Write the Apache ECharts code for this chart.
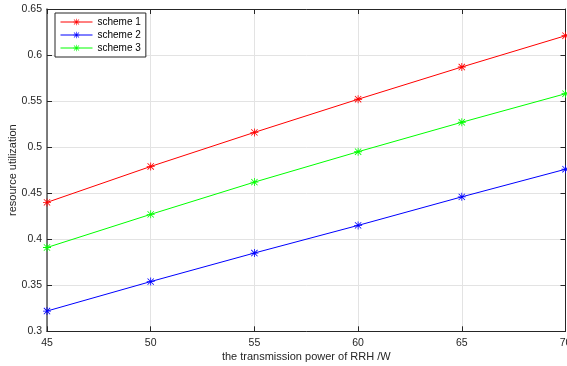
<!DOCTYPE html>
<html><head><meta charset="utf-8">
<script src="https://cdn.jsdelivr.net/npm/echarts@6/dist/echarts.min.js"></script>
<style>html,body{margin:0;padding:0;background:#fff}#c{width:567px;height:366px}</style>
</head><body><div id="c"></div>
<script>
const powers = [45, 50, 55, 60, 65, 70];
const scheme1 = [0.440, 0.479, 0.516, 0.552, 0.587, 0.621];
const scheme2 = [0.322, 0.354, 0.385, 0.415, 0.446, 0.476];
const scheme3 = [0.391, 0.427, 0.462, 0.495, 0.527, 0.558];
const seriesNames = ['scheme 1', 'scheme 2', 'scheme 3'];
const seriesColors = ['#ff0000', '#0000ff', '#00ff00'];
const xTitle = 'the transmission power of RRH /W';
const yTitle = 'resource utilization';

const star = 'path://M9,0L11,0L11,20L9,20Z M0,9L20,9L20,11L0,11Z M1.4,2.8L2.8,1.4L18.6,17.2L17.2,18.6Z M17.2,1.4L18.6,2.8L2.8,18.6L1.4,17.2Z';
const font = 'Liberation Sans, Arial, sans-serif';
const txt = '#262626';

function mk(name, data, color) {
  return {
    name, type: 'line', xAxisIndex: 0, yAxisIndex: 0,
    data: powers.map((p, i) => [p, data[i]]),
    symbol: star, symbolSize: 8, showAllSymbol: true,
    lineStyle: { color, width: 1 }, itemStyle: { color },
    emphasis: { disabled: true }, animation: false
  };
}
const dataArr = [scheme1, scheme2, scheme3];

const chart = echarts.init(document.getElementById('c'));
chart.setOption({
  animation: false,
  backgroundColor: '#fff',
  grid: { left: 47, top: 9, width: 518.5, height: 322.3, containLabel: false, outerBoundsMode: 'none' },
  legend: {
    orient: 'vertical', left: 55, top: 13,
    data: seriesNames,
    itemWidth: 32, itemHeight: 8, itemGap: 3,
    padding: [4, 5, 4, 5],
    borderColor: '#262626', borderWidth: 1, backgroundColor: '#fff',
    lineStyle: { width: 1 },
    textStyle: { fontFamily: font, fontSize: 10, color: '#000' }
  },
  xAxis: [{
    type: 'value', min: 45, max: 70, interval: 5,
    name: xTitle, nameLocation: 'middle', nameGap: 20, nameMoveOverlap: false,
    nameTextStyle: { fontFamily: font, fontSize: 11, color: txt },
    axisLine: { show: true, lineStyle: { color: '#262626', width: 1 } },
    axisTick: { show: true, inside: true, length: 5, lineStyle: { color: '#262626' } },
    axisLabel: { fontFamily: font, fontSize: 10.5, color: txt, margin: 6 },
    splitLine: { show: true, lineStyle: { color: '#e3e3e3', width: 1 } }
  }, {
    type: 'value', position: 'top', min: 45, max: 70, interval: 5,
    axisLine: { show: true, onZero: false, lineStyle: { color: '#262626', width: 1 } },
    axisTick: { show: true, inside: true, length: 5, lineStyle: { color: '#262626' } },
    axisLabel: { show: false }, splitLine: { show: false }
  }],
  yAxis: [{
    type: 'value', min: 0.3, max: 0.65, interval: 0.05,
    name: yTitle, nameLocation: 'middle', nameGap: 29, nameRotate: 90, nameMoveOverlap: false,
    nameTextStyle: { fontFamily: font, fontSize: 11, color: txt },
    axisLine: { show: true, onZero: false, lineStyle: { color: '#555', width: 1.5 } },
    axisTick: { show: true, inside: true, length: 5, lineStyle: { color: '#262626' } },
    axisLabel: { fontFamily: font, fontSize: 10.5, color: txt, margin: 5,
      formatter: v => String(+v.toFixed(2)) },
    splitLine: { show: true, lineStyle: { color: '#e3e3e3', width: 1 } }
  }, {
    type: 'value', position: 'right', min: 0.3, max: 0.65, interval: 0.05,
    axisLine: { show: true, onZero: false, lineStyle: { color: '#262626', width: 1 } },
    axisTick: { show: true, inside: true, length: 5, lineStyle: { color: '#262626' } },
    axisLabel: { show: false }, splitLine: { show: false }
  }],
  series: seriesNames.map((n, i) => mk(n, dataArr[i], seriesColors[i]))
});
</script></body></html>
